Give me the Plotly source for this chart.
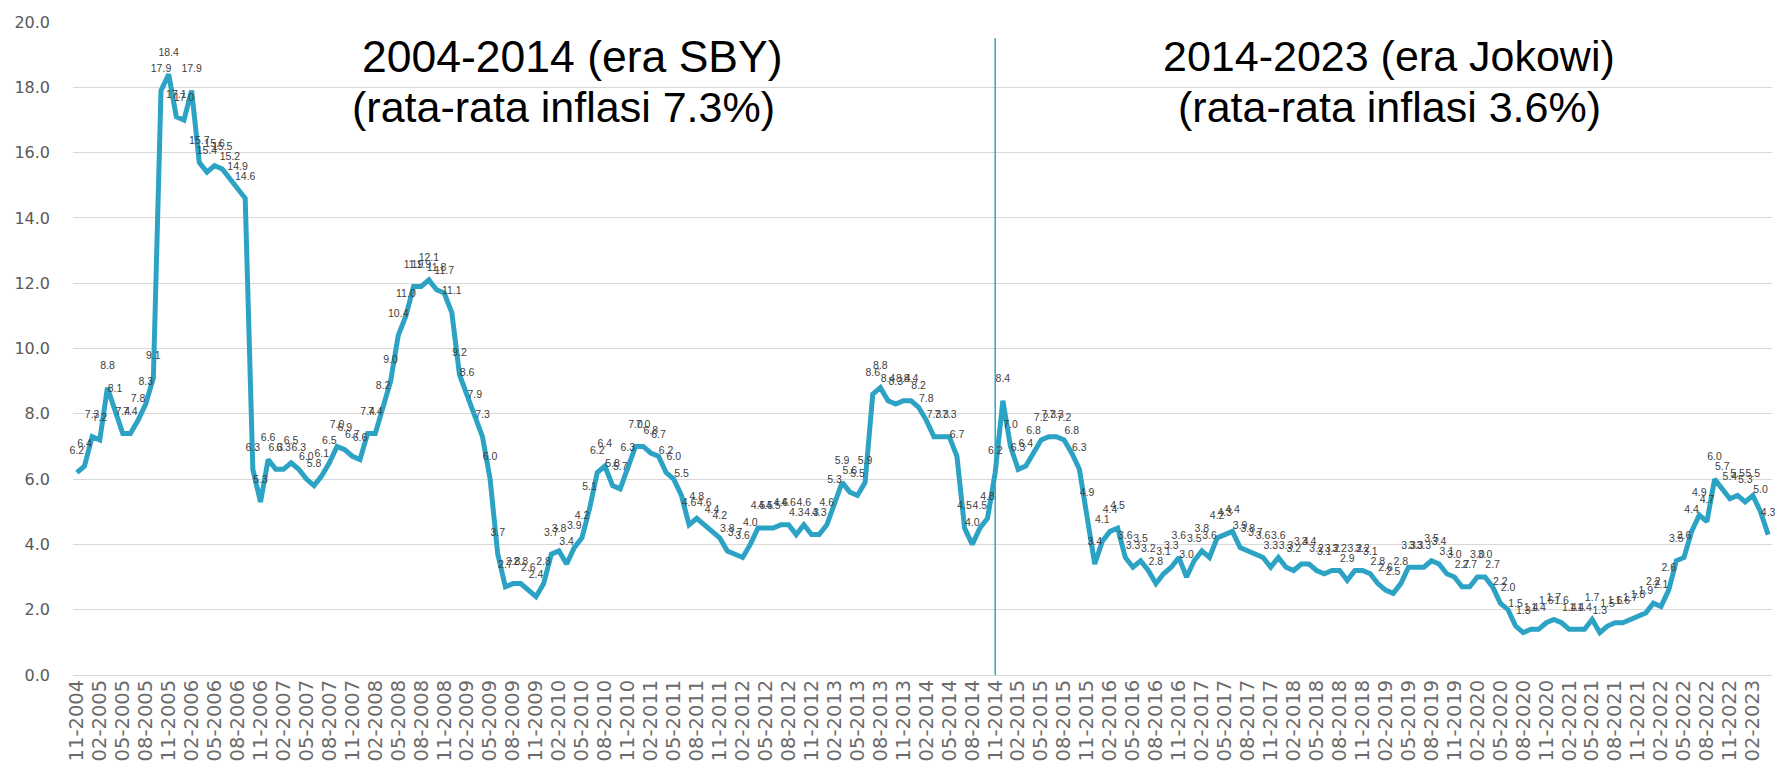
import plotly.graph_objects as go

# Monthly year-on-year inflation (%), Nov 2004 - Apr 2023
infl_2004 = [6.2, 6.4]
infl_2005 = [7.3, 7.2, 8.8, 8.1, 7.4, 7.4, 7.8, 8.3, 9.1, 17.9, 18.4, 17.1]
infl_2006 = [17.0, 17.9, 15.7, 15.4, 15.6, 15.5, 15.2, 14.9, 14.6, 6.3, 5.3, 6.6]
infl_2007 = [6.3, 6.3, 6.5, 6.3, 6.0, 5.8, 6.1, 6.5, 7.0, 6.9, 6.7, 6.6]
infl_2008 = [7.4, 7.4, 8.2, 9.0, 10.4, 11.0, 11.9, 11.9, 12.1, 11.8, 11.7, 11.1]
infl_2009 = [9.2, 8.6, 7.9, 7.3, 6.0, 3.7, 2.7, 2.8, 2.8, 2.6, 2.4, 2.8]
infl_2010 = [3.7, 3.8, 3.4, 3.9, 4.2, 5.1, 6.2, 6.4, 5.8, 5.7, 6.3, 7.0]
infl_2011 = [7.0, 6.8, 6.7, 6.2, 6.0, 5.5, 4.6, 4.8, 4.6, 4.4, 4.2, 3.8]
infl_2012 = [3.7, 3.6, 4.0, 4.5, 4.5, 4.5, 4.6, 4.6, 4.3, 4.6, 4.3, 4.3]
infl_2013 = [4.6, 5.3, 5.9, 5.6, 5.5, 5.9, 8.6, 8.8, 8.4, 8.3, 8.4, 8.4]
infl_2014 = [8.2, 7.8, 7.3, 7.3, 7.3, 6.7, 4.5, 4.0, 4.5, 4.8, 6.2, 8.4]
infl_2015 = [7.0, 6.3, 6.4, 6.8, 7.2, 7.3, 7.3, 7.2, 6.8, 6.3, 4.9, 3.4]
infl_2016 = [4.1, 4.4, 4.5, 3.6, 3.3, 3.5, 3.2, 2.8, 3.1, 3.3, 3.6, 3.0]
infl_2017 = [3.5, 3.8, 3.6, 4.2, 4.3, 4.4, 3.9, 3.8, 3.7, 3.6, 3.3, 3.6]
infl_2018 = [3.3, 3.2, 3.4, 3.4, 3.2, 3.1, 3.2, 3.2, 2.9, 3.2, 3.2, 3.1]
infl_2019 = [2.8, 2.6, 2.5, 2.8, 3.3, 3.3, 3.3, 3.5, 3.4, 3.1, 3.0, 2.7]
infl_2020 = [2.7, 3.0, 3.0, 2.7, 2.2, 2.0, 1.5, 1.3, 1.4, 1.4, 1.6, 1.7]
infl_2021 = [1.6, 1.4, 1.4, 1.4, 1.7, 1.3, 1.5, 1.6, 1.6, 1.7, 1.8, 1.9]
infl_2022 = [2.2, 2.1, 2.6, 3.5, 3.6, 4.4, 4.9, 4.7, 6.0, 5.7, 5.4, 5.5]
infl_2023 = [5.3, 5.5, 5.0, 4.3]

yearly = [
    (2004, 11, infl_2004), (2005, 1, infl_2005), (2006, 1, infl_2006),
    (2007, 1, infl_2007), (2008, 1, infl_2008), (2009, 1, infl_2009),
    (2010, 1, infl_2010), (2011, 1, infl_2011), (2012, 1, infl_2012),
    (2013, 1, infl_2013), (2014, 1, infl_2014), (2015, 1, infl_2015),
    (2016, 1, infl_2016), (2017, 1, infl_2017), (2018, 1, infl_2018),
    (2019, 1, infl_2019), (2020, 1, infl_2020), (2021, 1, infl_2021),
    (2022, 1, infl_2022), (2023, 1, infl_2023),
]

months = []
inflation = []
for year, first_month, vals in yearly:
    for i, v in enumerate(vals):
        months.append(f"{first_month + i:02d}-{year}")
        inflation.append(v)

tick_labels = months[::3]
divider_month = "11-2014"
divider_top = 19.5

title_sby = ["2004-2014 (era SBY)", "(rata-rata inflasi 7.3%)"]
title_jokowi = ["2014-2023 (era Jokowi)", "(rata-rata inflasi 3.6%)"]

LINE_COLOR = "#2CA3C4"

fig = go.Figure()
fig.add_trace(go.Scatter(
    x=months, y=inflation,
    mode="lines+markers+text",
    line=dict(color=LINE_COLOR, width=5),
    marker=dict(size=24, opacity=0, color=LINE_COLOR),
    texttemplate="%{y:.1f}",
    textposition="top center",
    textfont=dict(family="Liberation Sans, Arial, sans-serif", size=10.5, color="#404040"),
    cliponaxis=False,
    showlegend=False,
))
fig.add_trace(go.Scatter(
    x=[divider_month, divider_month], y=[0, divider_top],
    mode="lines", line=dict(color=LINE_COLOR, width=1.5),
    showlegend=False, hoverinfo="skip",
))

L, R, T, B = 73, 3, 22, 96
W, H = 1775 - L - R, 771 - T - B

def px_x(p):
    return (p - L) / W

def px_y(p):
    return (771 - B - p) / H

title_positions = [
    (title_sby[0], 572, 56, 44.5), (title_sby[1], 563, 107, 43),
    (title_jokowi[0], 1389, 56, 43), (title_jokowi[1], 1389, 107, 43),
]
for txt, cx, cy, fs in title_positions:
    fig.add_annotation(
        x=px_x(cx), y=px_y(cy), xref="paper", yref="paper",
        text=txt, showarrow=False, xanchor="center", yanchor="middle",
        font=dict(family="Liberation Sans, Arial, sans-serif", size=fs, color="#000000"),
    )

fig.update_layout(
    width=1775, height=771,
    margin=dict(l=L, r=R, t=T, b=B, autoexpand=False),
    paper_bgcolor="white", plot_bgcolor="white",
    showlegend=False,
)
fig.update_xaxes(
    type="category",
    categoryorder="array", categoryarray=months,
    range=[-0.5, len(months) - 0.5],
    tickmode="array", tickvals=tick_labels, ticktext=tick_labels,
    tickangle=-90,
    tickfont=dict(family="DejaVu Sans, sans-serif", size=19.5, color="#6b6b6b"),
    showgrid=False, zeroline=False, showline=False, ticks="",
    automargin=False,
)
fig.update_yaxes(
    range=[0, 20], dtick=2, tickformat=".1f",
    tickfont=dict(family="DejaVu Sans, sans-serif", size=16, color="#595959"),
    showgrid=True, gridcolor="#D9D9D9", gridwidth=1.3,
    zeroline=True, zerolinecolor="#D9D9D9", zerolinewidth=1.3,
    showline=False, ticks="", ticklabelstandoff=22,
    automargin=False,
)

fig.write_html(
    "out.html",
    config={"displayModeBar": False},
    post_script="document.body.style.margin='0';",
)
